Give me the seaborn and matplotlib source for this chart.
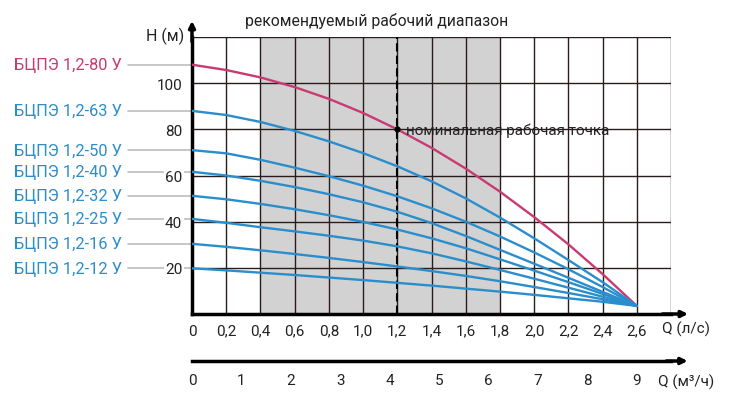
import pandas as pd
import matplotlib.pyplot as plt
import seaborn as sns

# Flow (l/s) and head (m)
q_ls = [0, 0.2, 0.4, 0.6, 0.8, 1.0, 1.2, 1.4, 1.6, 1.8, 2.0, 2.2, 2.4, 2.6]
h_80 = [108, 105.7, 102.5, 98.3, 93.2, 87.1, 80, 72, 63, 53, 42, 30.2, 17.3, 3.5]
h_63 = [88, 86.2, 83.2, 79.3, 74.8, 69.7, 64.0, 57.5, 50.1, 41.8, 32.8, 23.4, 13.8, 3.5]
h_50 = [71, 69.6, 66.8, 63.4, 59.7, 55.6, 51.0, 45.8, 40.0, 33.6, 26.7, 19.4, 11.7, 3.5]
h_40 = [61.6, 60.0, 57.7, 55.0, 51.9, 48.4, 44.3, 39.4, 33.8, 27.8, 21.8, 15.7, 9.6, 3.5]
h_32 = [51.2, 49.7, 47.7, 45.4, 42.8, 39.9, 36.6, 32.8, 28.5, 23.7, 18.8, 13.8, 8.7, 3.5]
h_25 = [41.2, 39.5, 37.6, 35.8, 33.9, 31.8, 29.3, 26.3, 22.8, 19.1, 15.3, 11.4, 7.5, 3.5]
h_16 = [30.4, 29.1, 27.6, 26.0, 24.3, 22.5, 20.6, 18.6, 16.5, 14.2, 11.7, 9.1, 6.4, 3.5]
h_12 = [19.8, 18.9, 17.9, 16.9, 15.8, 14.7, 13.5, 12.3, 11.0, 9.7, 8.3, 6.8, 5.3, 3.5]

models = ['БЦПЭ 1,2-80 У', 'БЦПЭ 1,2-63 У', 'БЦПЭ 1,2-50 У', 'БЦПЭ 1,2-40 У',
          'БЦПЭ 1,2-32 У', 'БЦПЭ 1,2-25 У', 'БЦПЭ 1,2-16 У', 'БЦПЭ 1,2-12 У']
heads = [h_80, h_63, h_50, h_40, h_32, h_25, h_16, h_12]

x_ticks = [0, 0.2, 0.4, 0.6, 0.8, 1.0, 1.2, 1.4, 1.6, 1.8, 2.0, 2.2, 2.4, 2.6]
x_labels = ['0', '0,2', '0,4', '0,6', '0,8', '1,0', '1,2', '1,4', '1,6', '1,8',
            '2,0', '2,2', '2,4', '2,6']
y_ticks = [20, 40, 60, 80, 100]
m3h_ticks = [0, 1, 2, 3, 4, 5, 6, 7, 8, 9]

range_lo, range_hi = 0.4, 1.8
nominal_q, nominal_h = 1.2, 80

red = '#c93a72'
blue = '#2a8dcc'
grid_col = '#2a1c1e'

rows = []
for m, h in zip(models, heads):
    for q, v in zip(q_ls, h):
        rows.append({'Q': q, 'H': v, 'model': m})
df = pd.DataFrame(rows)

sns.set_style('white')
plt.rcParams['font.family'] = ['Roboto', 'DejaVu Sans']
plt.rcParams['text.color'] = '#222222'

fig = plt.figure(figsize=(7.3, 4.06), dpi=100)
ax = fig.add_axes([192 / 730, 1 - 315 / 406, 479 / 730, 277 / 406])

# recommended range and grid
ax.axvspan(range_lo, range_hi, color='#d2d2d2', zorder=0, lw=0)
for gx in [0.2 * i for i in range(1, 15)]:
    ax.axvline(gx, color=grid_col, lw=1, zorder=1)
for gy in [20, 40, 60, 80, 100, 120]:
    ax.axhline(gy, color=grid_col, lw=1, zorder=1)
ax.axvline(nominal_q, color='k', lw=1.5, ls=(0, (4, 2)), zorder=2)

palette = {m: (red if i == 0 else blue) for i, m in enumerate(models)}
sns.lineplot(data=df, x='Q', y='H', hue='model', palette=palette, lw=1.7,
             legend=False, ax=ax, zorder=3)
ax.plot([nominal_q], [nominal_h], 'o', color='k', ms=3.5, zorder=4)
ax.text(nominal_q + 0.05, nominal_h, 'номинальная рабочая точка', fontsize=11,
        va='center', ha='left', color='#222222', zorder=4)

ax.set_xlim(0, 2.8)
ax.set_ylim(0, 120)
ax.set_xticks(x_ticks)
ax.set_xticklabels(x_labels, fontsize=11)
ax.set_yticks(y_ticks)
ax.set_yticklabels([str(t) for t in y_ticks], fontsize=11,
                   bbox=dict(facecolor='white', edgecolor='none', pad=1))
ax.tick_params(axis='both', length=0, pad=7, colors='#222222')
ax.set_xlabel('')
ax.set_ylabel('')
for s in ['top', 'right']:
    ax.spines[s].set_visible(False)
for s in ['left', 'bottom']:
    ax.spines[s].set_linewidth(2.5)
    ax.spines[s].set_color('k')

# axis arrows
ax.annotate('', xy=(2.9, 0), xytext=(2.75, 0), annotation_clip=False,
            arrowprops=dict(arrowstyle='-|>', color='k', lw=2.5, mutation_scale=9,
                            shrinkA=0, shrinkB=0))
ax.annotate('', xy=(0, 127), xytext=(0, 118), annotation_clip=False,
            arrowprops=dict(arrowstyle='-|>', color='k', lw=2.5, mutation_scale=9,
                            shrinkA=0, shrinkB=0))

# model labels with leader lines
for i, (m, h) in enumerate(zip(models, heads)):
    c = red if i == 0 else blue
    ax.plot([-0.374, 0], [h[0], h[0]], color='#bdbdbd', lw=1.2, clip_on=False, zorder=0.5)
    ax.text(-0.41, h[0], m, color=c, fontsize=11.8, ha='right', va='center')

ax.text(1.08, 127.5, 'рекомендуемый рабочий диапазон', fontsize=11.3,
        ha='center', va='center')
ax.text(-0.045, 120.5, 'H (м)', fontsize=11.5, ha='right', va='center')
ax.text(2.745, -6.2, 'Q (л/с)', fontsize=11, ha='left', va='center')

# second flow scale in m3/h
ax2 = fig.add_axes([192 / 730, 1 - 362 / 406, 479 / 730, 0.01])
ax2.set_xlim(0, 9 * 2.8 / 2.6)
ax2.set_ylim(0, 1)
ax2.set_yticks([])
ax2.set_xticks(m3h_ticks)
ax2.set_xticklabels([str(t) for t in m3h_ticks], fontsize=11)
ax2.tick_params(axis='x', direction='in', length=7, width=1.5, pad=9, colors='#222222')
for s in ['top', 'right', 'left']:
    ax2.spines[s].set_visible(False)
ax2.spines['bottom'].set_linewidth(2.5)
ax2.spines['bottom'].set_color('k')
ax2.patch.set_alpha(0)
ax2.annotate('', xy=(10.03, 0), xytext=(9.6, 0), annotation_clip=False,
             arrowprops=dict(arrowstyle='-|>', color='k', lw=2.5, mutation_scale=9,
                             shrinkA=0, shrinkB=0))
ax2.annotate('Q (м³/ч)', xy=(9.43, 0), xytext=(0, -14.5), textcoords='offset points',
             fontsize=11, ha='left', va='center', annotation_clip=False)

fig.savefig('out.png', dpi=100)
